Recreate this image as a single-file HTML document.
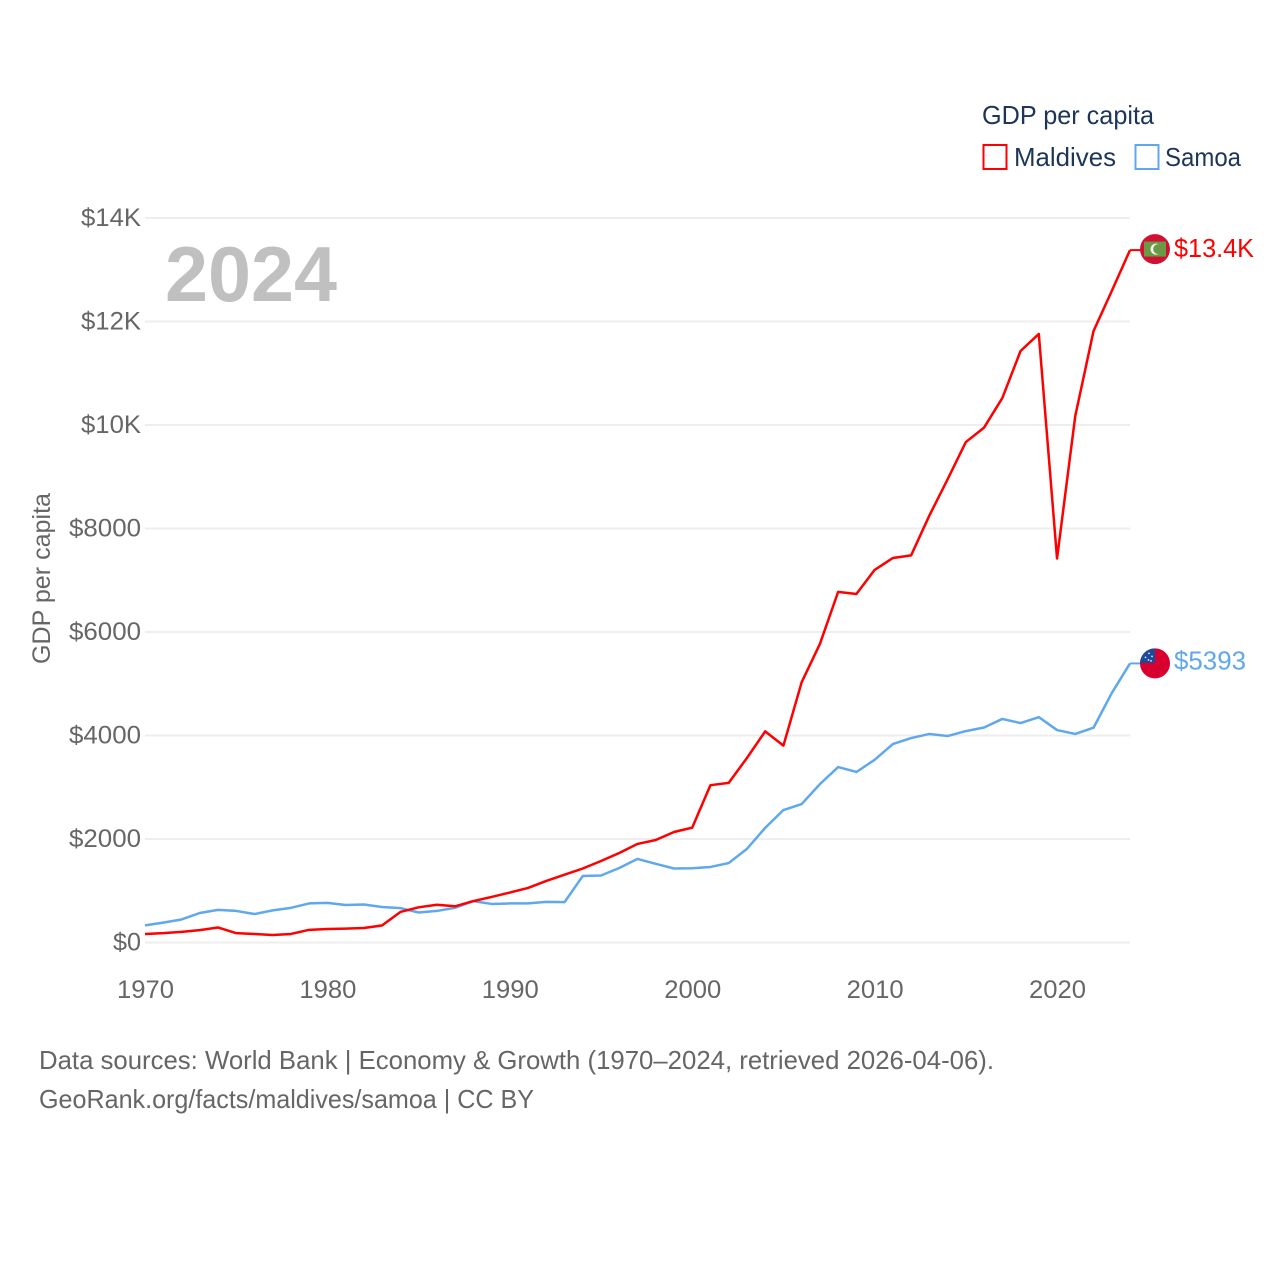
<!DOCTYPE html>
<html lang="en">
<head>
<meta charset="utf-8">
<title>GDP per capita: Maldives and Samoa</title>
<style>
html,body{margin:0;padding:0;background:#fff;width:1280px;height:1280px;overflow:hidden}
svg{display:block}
text{font-family:"Liberation Sans",sans-serif}
</style>
</head>
<body>
<svg id="chart" width="1280" height="1280" viewBox="0 0 1280 1280" xmlns="http://www.w3.org/2000/svg">
  <rect width="1280" height="1280" fill="#fff"/>
  <g id="grid"></g>
  <g id="yticks"></g>
  <g id="xticks"></g>
  <text transform="translate(50,664) rotate(-90)" font-size="25" fill="#666" textLength="171" lengthAdjust="spacingAndGlyphs">GDP per capita</text>
  <text x="165" y="301" font-size="78" font-weight="700" fill="#c0c0c0" textLength="172" lengthAdjust="spacingAndGlyphs">2024</text>
  <g id="series"></g>
  <g id="ends"></g>
  <g>
    <text x="982" y="124" font-size="26" fill="#1d3557" textLength="172" lengthAdjust="spacingAndGlyphs">GDP per capita</text>
    <rect x="983.5" y="145" width="23" height="24" fill="none" stroke="#ff0000" stroke-width="2"/>
    <text x="1014" y="166" font-size="26" fill="#1d3557" textLength="102" lengthAdjust="spacingAndGlyphs">Maldives</text>
    <rect x="1135.5" y="145" width="23" height="24" fill="none" stroke="#5fa8ee" stroke-width="2"/>
    <text x="1165" y="166" font-size="26" fill="#1d3557" textLength="76" lengthAdjust="spacingAndGlyphs">Samoa</text>
  </g>
  <g>
    <text x="39" y="1069" font-size="26" fill="#666" textLength="955" lengthAdjust="spacingAndGlyphs">Data sources: World Bank | Economy &amp; Growth (1970–2024, retrieved 2026-04-06).</text>
    <text x="39" y="1108" font-size="26" fill="#666" textLength="495" lengthAdjust="spacingAndGlyphs">GeoRank.org/facts/maldives/samoa | CC BY</text>
  </g>
</svg>
<script>
const startYear = 1970;
const maldivesValues = [165,180,205,240,290,180,165,145,165,245,262,268,280,330,590,680,730,700,800,880,965,1055,1190,1310,1430,1575,1730,1905,1980,2135,2220,3040,3085,3565,4080,3805,5030,5770,6775,6735,7200,7430,7480,8250,8950,9670,9950,10520,11430,11760,7420,10175,11815,12590,13380];
const samoaValues = [330,385,445,570,630,610,550,620,670,755,765,725,735,685,665,580,610,670,800,745,755,755,785,780,1285,1295,1440,1615,1520,1430,1435,1460,1535,1810,2215,2560,2675,3060,3390,3295,3530,3835,3950,4030,3990,4085,4155,4320,4240,4355,4105,4030,4150,4820,5393];
const yTickValues = [0,2000,4000,6000,8000,10000,12000,14000];
const yTickLabels = ["$0","$2000","$4000","$6000","$8000","$10K","$12K","$14K"];
const xTickValues = [1970,1980,1990,2000,2010,2020];
const maldivesEndLabel = "$13.4K";
const samoaEndLabel = "$5393";

const NS = "http://www.w3.org/2000/svg";
const xScale = yr => 145 + (yr - 1970) * (985 / 54);
const yScale = v => 942.5 - v * (724.5 / 14000);
function make(tag, attrs, parent, txt) {
  const el = document.createElementNS(NS, tag);
  for (const k in attrs) el.setAttribute(k, attrs[k]);
  if (txt !== undefined) el.textContent = txt;
  parent.appendChild(el);
  return el;
}
const grid = document.getElementById("grid");
const yticks = document.getElementById("yticks");
const xticks = document.getElementById("xticks");
const series = document.getElementById("series");
const ends = document.getElementById("ends");

yTickValues.forEach((v, i) => {
  const line = make("line", {x1:145, x2:1130, y1:yScale(v), y2:yScale(v), stroke:"#eeeeee", "stroke-width":2}, grid);
  
  
  const label = yTickLabels[i];
  const t = make("text", {x:141, y:yScale(v) + 8, "text-anchor":"end", "font-size":25, fill:"#666", textLength:(label.length === 2 ? 28 : label.length === 4 ? 60 : 72), lengthAdjust:"spacingAndGlyphs"}, yticks, label);
  
  
});
xTickValues.forEach(yr => {
  const t = make("text", {x:xScale(yr) + 0.5, y:998, "text-anchor":"middle", "font-size":25, fill:"#666", textLength:57, lengthAdjust:"spacingAndGlyphs"}, xticks, String(yr));
  
  
});
function pathFor(vals) {
  return vals.map((v, i) => (i ? "L" : "M") + xScale(startYear + i).toFixed(2) + " " + yScale(v).toFixed(2)).join("");
}
const samoaLine = make("path", {d:pathFor(samoaValues), fill:"none", stroke:"#5fa8ee", "stroke-width":2.5, "stroke-linejoin":"round"}, series);


const maldivesLine = make("path", {d:pathFor(maldivesValues), fill:"none", stroke:"#ff0000", "stroke-width":2.5, "stroke-linejoin":"round"}, series);



/* Maldives end marker */
const mv = maldivesValues[maldivesValues.length - 1];
const my = yScale(mv);
const mConn = make("line", {x1:1130, x2:1141, y1:my, y2:my, stroke:"#ff0000", "stroke-width":2}, ends);


const mFlag = make("g", {transform:`translate(1155,${my - 1})`}, ends);


make("circle", {r:15, fill:"#d21034"}, mFlag);
make("rect", {x:-11, y:-7.5, width:22, height:15, fill:"#6a9a45"}, mFlag);
make("circle", {cx:1, cy:0, r:5.5, fill:"#f1f1ea"}, mFlag);
make("circle", {cx:3.2, cy:0, r:5, fill:"#6a9a45"}, mFlag);
const mLabel = make("text", {x:1174, y:my + 7, "font-size":26, fill:"#ff0000", textLength:80, lengthAdjust:"spacingAndGlyphs"}, ends, maldivesEndLabel);



/* Samoa end marker */
const sv = samoaValues[samoaValues.length - 1];
const sy = yScale(sv);
const sConn = make("line", {x1:1130, x2:1141, y1:sy, y2:sy, stroke:"#5fa8ee", "stroke-width":2}, ends);


const sFlag = make("g", {transform:`translate(1155,${sy})`}, ends);


make("circle", {r:15, fill:"#d9002f"}, sFlag);
make("path", {d:"M-15 0A15 15 0 0 1 0 -15V-0.5H-15Z", fill:"#1c4a9c"}, sFlag);
[[-6,-10],[-9.5,-6],[-3,-7],[-6.5,-3.5],[-4,-2.5]].forEach(p => {
  make("circle", {cx:p[0], cy:p[1], r:0.9, fill:"#e8edf6"}, sFlag);
});
const sLabel = make("text", {x:1174, y:sy + 6, "font-size":26, fill:"#5fa8ee", textLength:72, lengthAdjust:"spacingAndGlyphs"}, ends, samoaEndLabel);


</script>
</body>
</html>
